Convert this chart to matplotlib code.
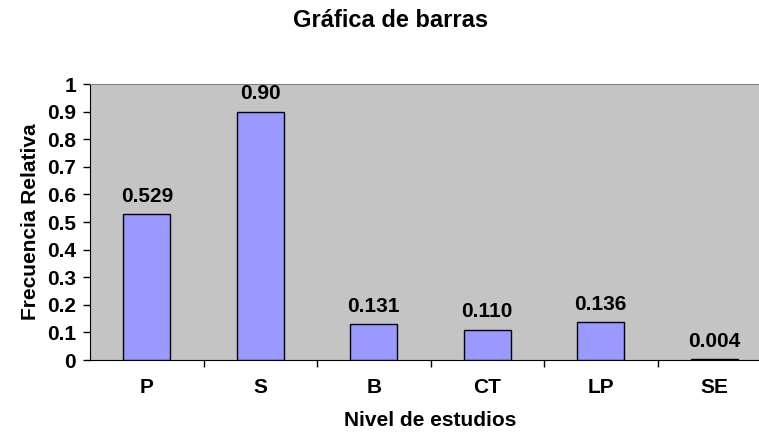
import matplotlib.pyplot as plt
import numpy as np

# datos
niveles = ["P", "S", "B", "CT", "LP", "SE"]
frecuencia = [0.529, 0.90, 0.131, 0.110, 0.136, 0.004]
etiquetas = ["0.529", "0.90", "0.131", "0.110", "0.136", "0.004"]
yticks = [0, 0.1, 0.2, 0.3, 0.4, 0.5, 0.6, 0.7, 0.8, 0.9, 1]
ytick_labels = ["0", "0.1", "0.2", "0.3", "0.4", "0.5", "0.6", "0.7", "0.8", "0.9", "1"]

plt.rcParams["font.family"] = ["Liberation Sans", "DejaVu Sans"]
plt.rcParams["font.weight"] = "bold"

fig = plt.figure(figsize=(7.59, 4.36), dpi=100)
ax = fig.add_axes([90 / 759, 76 / 436, 681 / 759, 276 / 436])
ax.set_facecolor("#C4C4C4")

x = np.arange(len(niveles))
ax.bar(x, frecuencia, width=0.41, color="#9999FF", edgecolor="black", linewidth=1, zorder=3)

for xi, v, lab in zip(x, frecuencia, etiquetas):
    ax.annotate(lab, (xi, v), textcoords="offset points", xytext=(0, 6),
                ha="center", va="bottom", fontsize=15, fontweight="bold")

ax.set_xlim(-0.5, len(niveles) - 0.5)
ax.set_ylim(0, 1)
ax.set_yticks(yticks)
ax.set_yticklabels(ytick_labels, fontsize=15, fontweight="bold")
ax.set_xticks(x)
ax.set_xticklabels(niveles, fontsize=15, fontweight="bold")
ax.tick_params(axis="x", length=0, pad=13)
ax.set_xticks(np.arange(0.5, len(niveles) - 0.5, 1), minor=True)
ax.tick_params(axis="x", which="minor", length=5, width=1, color="black")
ax.tick_params(axis="y", length=5, width=1, pad=5)

ax.spines["left"].set_color("black")
ax.spines["bottom"].set_color("black")
ax.spines["top"].set_color("#808080")
ax.spines["right"].set_visible(False)

ax.set_xlabel("Nivel de estudios", fontsize=15, fontweight="bold", labelpad=10)
ax.set_ylabel("Frecuencia Relativa", fontsize=15, fontweight="bold", labelpad=5)
fig.text(0.515, 0.953, "Gráfica de barras", ha="center", va="center",
         fontsize=17, fontweight="bold")

fig.savefig("out.png", dpi=100)
